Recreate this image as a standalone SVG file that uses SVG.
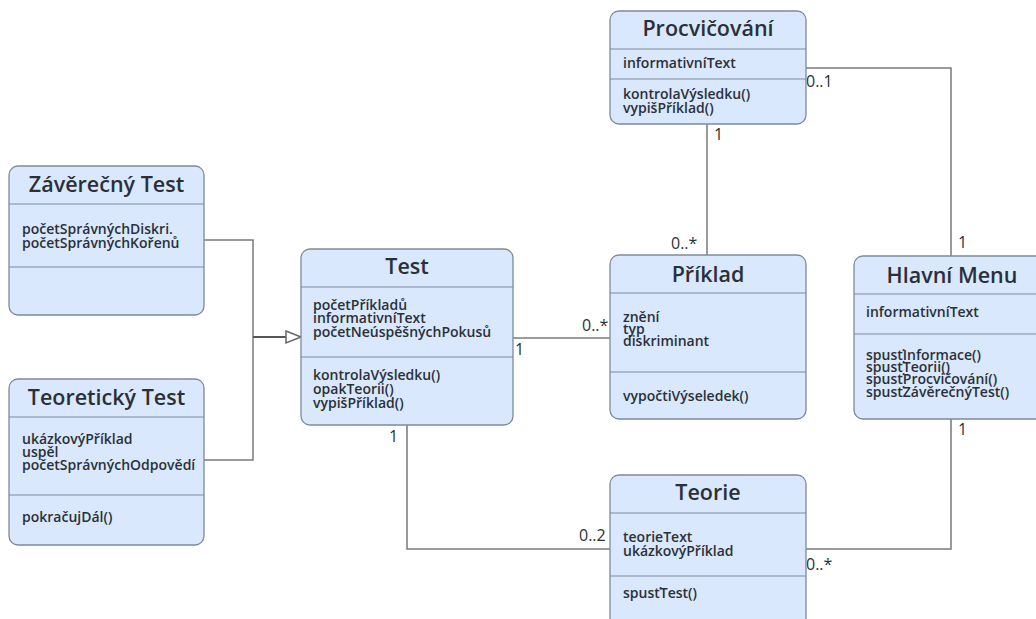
<svg xmlns="http://www.w3.org/2000/svg" width="1036" height="619" viewBox="0 0 1036 619">
<defs>
<style>
.box{fill:#d9e8fc;stroke:#7d8a9a;stroke-width:1.3}
.div{stroke:#7d8a9a;stroke-width:1.2}
.title{font-family:"Open Sans","Liberation Sans",sans-serif;font-size:21.5px;font-weight:600;fill:#2b3038;text-anchor:middle}
.t{font-family:"Open Sans","Liberation Sans",sans-serif;font-size:14px;font-weight:600;fill:#2b3038}
.lbl{font-family:"Open Sans","Liberation Sans",sans-serif;font-size:16px;fill:#2b3038}
.con{fill:none;stroke:#7a7a7a;stroke-width:1.5}
</style>
</defs>
<rect width="1036" height="619" fill="#ffffff"/>
<g id="connectors">
<polyline class="con" points="204,240 253,240 253,460 204,460"/>
<line x1="253" y1="337" x2="286" y2="337" stroke="#555" stroke-width="2.2"/>
<polygon points="286,331 301,337 286,343" fill="#ffffff" stroke="#666" stroke-width="1.5"/>
<line class="con" x1="513" y1="338" x2="610" y2="338"/>
<line class="con" x1="707" y1="124" x2="707" y2="255"/>
<polyline class="con" points="806,68 951,68 951,256"/>
<polyline class="con" points="951,419 951,549 806,549"/>
<polyline class="con" points="407,425 407,549 610,549"/>
<text class="lbl" x="515" y="355">1</text>
<text class="lbl" x="582" y="331">0..*</text>
<text class="lbl" x="714" y="140">1</text>
<text class="lbl" x="671" y="249">0..*</text>
<text class="lbl" x="806" y="87">0..1</text>
<text class="lbl" x="958" y="248">1</text>
<text class="lbl" x="958" y="435">1</text>
<text class="lbl" x="806" y="570">0..*</text>
<text class="lbl" x="389" y="442">1</text>
<text class="lbl" x="579" y="541">0..2</text>
</g>
<g id="zaverecny-test">
<rect class="box" x="9" y="166" width="195" height="149" rx="9"/>
<line class="div" x1="9" y1="204" x2="204" y2="204"/>
<line class="div" x1="9" y1="267" x2="204" y2="267"/>
<text class="title" x="106.5" y="192">Závěrečný Test</text>
<text class="t" x="22" y="234">početSprávnýchDiskri.<tspan x="22" dy="14">početSprávnýchKořenů</tspan></text>
</g>
<g id="teoreticky-test">
<rect class="box" x="9" y="379" width="195" height="166" rx="9"/>
<line class="div" x1="9" y1="417" x2="204" y2="417"/>
<line class="div" x1="9" y1="495" x2="204" y2="495"/>
<text class="title" x="106.5" y="405">Teoretický Test</text>
<text class="t" x="22" y="444">ukázkovýPříklad<tspan x="22" dy="13">uspěl</tspan><tspan x="22" dy="13">početSprávnýchOdpovědí</tspan></text>
<text class="t" x="22" y="522">pokračujDál()</text>
</g>
<g id="test">
<rect class="box" x="301" y="249" width="212" height="176" rx="9"/>
<line class="div" x1="301" y1="287" x2="513" y2="287"/>
<line class="div" x1="301" y1="357" x2="513" y2="357"/>
<text class="title" x="407" y="274">Test</text>
<text class="t" x="313" y="310">početPříkladů<tspan x="313" dy="13">informativníText</tspan><tspan x="313" dy="14">početNeúspěšnýchPokusů</tspan></text>
<text class="t" x="313" y="380">kontrolaVýsledku()<tspan x="313" dy="14">opakTeorii()</tspan><tspan x="313" dy="14">vypišPříklad()</tspan></text>
</g>
<g id="priklad">
<rect class="box" x="610" y="255" width="196" height="164" rx="9"/>
<line class="div" x1="610" y1="293" x2="806" y2="293"/>
<line class="div" x1="610" y1="372" x2="806" y2="372"/>
<text class="title" x="708" y="282">Příklad</text>
<text class="t" x="623" y="322">znění<tspan x="623" dy="12">typ</tspan><tspan x="623" dy="12">diskriminant</tspan></text>
<text class="t" x="623" y="401">vypočtiVýseledek()</text>
</g>
<g id="hlavni-menu">
<rect class="box" x="854" y="256" width="196" height="163" rx="9"/>
<line class="div" x1="854" y1="294" x2="1050" y2="294"/>
<line class="div" x1="854" y1="334" x2="1050" y2="334"/>
<text class="title" x="952" y="283">Hlavní Menu</text>
<text class="t" x="866" y="317">informativníText</text>
<text class="t" x="866" y="360">spusťInformace()<tspan x="866" dy="12">spusťTeorii()</tspan><tspan x="866" dy="12">spusťProcvičování()</tspan><tspan x="866" dy="13">spusťZávěrečnýTest()</tspan></text>
</g>
<g id="procvicovani">
<rect class="box" x="610" y="11" width="196" height="113" rx="9"/>
<line class="div" x1="610" y1="49" x2="806" y2="49"/>
<line class="div" x1="610" y1="79" x2="806" y2="79"/>
<text class="title" x="708" y="36">Procvičování</text>
<text class="t" x="623" y="68">informativníText</text>
<text class="t" x="623" y="99">kontrolaVýsledku()<tspan x="623" dy="14">vypišPříklad()</tspan></text>
</g>
<g id="teorie">
<rect class="box" x="610" y="475" width="196" height="160" rx="9"/>
<line class="div" x1="610" y1="513" x2="806" y2="513"/>
<line class="div" x1="610" y1="576" x2="806" y2="576"/>
<text class="title" x="708" y="500">Teorie</text>
<text class="t" x="623" y="542">teorieText<tspan x="623" dy="14">ukázkovýPříklad</tspan></text>
<text class="t" x="623" y="598">spusťTest()</text>
</g>
</svg>
